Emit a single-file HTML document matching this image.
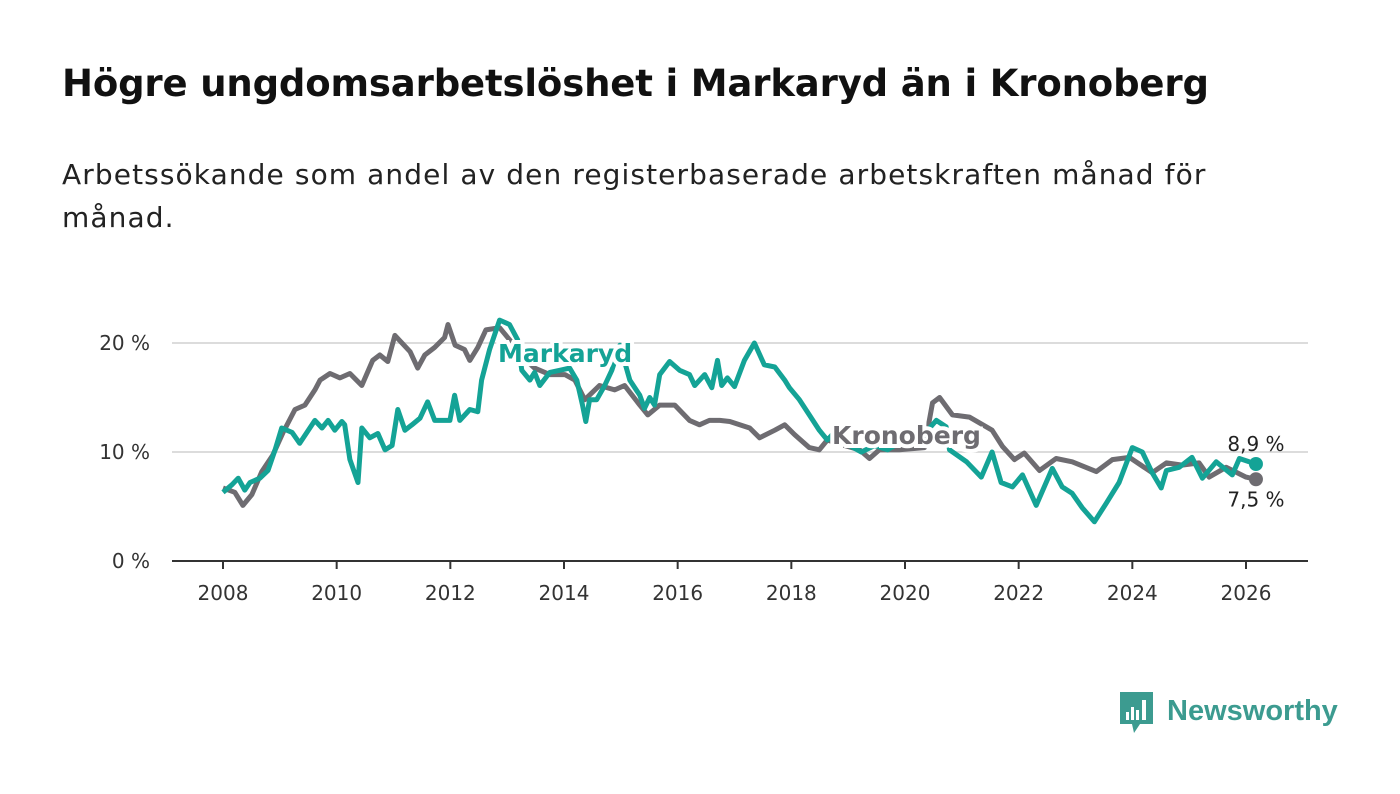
<!DOCTYPE html>
<html><head><meta charset="utf-8">
<style>
body{margin:0;background:#fff;width:1400px;height:794px;overflow:hidden;font-family:"DejaVu Sans",sans-serif;}
#title{position:absolute;left:62px;top:62px;font-size:37px;font-weight:bold;color:#111;margin:0;white-space:nowrap;letter-spacing:-0.15px;}
#sub{position:absolute;left:62px;top:153px;width:1300px;font-size:28px;line-height:43px;color:#222;margin:0;letter-spacing:1.1px;}
svg{position:absolute;left:0;top:0;}
</style></head><body>
<h1 id="title">Högre ungdomsarbetslöshet i Markaryd än i Kronoberg</h1>
<p id="sub">Arbetssökande som andel av den registerbaserade arbetskraften månad för<br>månad.</p>
<svg id="chart" width="1400" height="794"></svg>
<script>
const xTickYears=[2008,2010,2012,2014,2016,2018,2020,2022,2024,2026];
const yTicks=[0,10,20];
const yTickLabels=["0 %","10 %","20 %"];
// months since Jan 2008
const kronMonths=[0,2.5,4.2,6.1,8.2,10.5,12.7,15.2,17.3,19.4,20.5,22.6,24.7,26.8,29.3,31.6,33.1,34.8,36.3,39.5,41.1,42.6,44.7,46.8,47.5,49,51,52.1,53.8,55.5,58.4,60.5,62.7,65.8,69,72.2,74.3,76.4,79.5,82.7,84.8,88,89.7,92.2,95.4,98.5,100.6,102.7,104.9,107,109.1,111.2,113.3,116.5,118.6,120.7,123.8,125.9,127.6,131.2,134.4,136.5,138.6,142.8,148.1,149.8,151.3,154,157.6,162.4,164.6,167.1,169.2,172.4,175.9,179.3,184.4,187.8,191.4,196.2,199.2,202.5,206.1,208.2,211.8,216,218.1];
const kronValues=[6.7,6.3,5.1,6.1,8.2,9.7,11.8,13.9,14.3,15.7,16.6,17.2,16.8,17.2,16.1,18.4,18.9,18.3,20.7,19.2,17.7,18.9,19.6,20.5,21.7,19.8,19.4,18.4,19.6,21.2,21.4,20.3,18.9,17.7,17.1,17.1,16.6,14.8,16.1,15.7,16.1,14.3,13.4,14.3,14.3,12.9,12.5,12.9,12.9,12.8,12.5,12.2,11.3,12.0,12.5,11.6,10.4,10.2,11.1,10.6,10.2,9.4,10.2,10.2,10.4,14.5,15.0,13.4,13.2,12.0,10.5,9.3,9.9,8.3,9.4,9.1,8.2,9.3,9.5,8.1,9.0,8.8,9.0,7.7,8.6,7.7,7.5];
const markMonths=[0,1.9,3.2,4.6,5.7,7.8,9.5,11,12.4,14.6,16.2,19.4,20.9,22.2,23.6,25.1,25.7,26.8,28.5,29.3,31,32.7,34.2,35.7,36.9,38.4,39.9,41.6,43.2,44.7,47.9,48.9,50,52.1,53.8,54.6,56.3,58.4,60.5,62.2,63.1,64.8,65.8,66.9,69,71.1,73.2,74.7,75.9,76.6,77.4,78.9,80.6,82.1,83.8,85.9,88,89,90.1,91.1,92.2,94.3,96.4,98.5,99.6,101.7,103.2,104.4,105.3,106.5,108,110.1,112.2,114.3,116.5,118.6,119.6,121.7,123.8,125.9,127.6,129.1,132.3,134.8,137.6,140.3,141.8,143.9,147,150.6,152.7,153.4,157,160.1,162.4,164.3,166.7,168.8,171.7,175.1,177.2,179.3,181.4,184,186.5,189.2,192,194.1,196.2,198.1,199.2,201.9,204.6,206.8,209.7,213.1,214.6,218.1];
const markValues=[6.3,7.0,7.6,6.5,7.2,7.6,8.3,10.2,12.2,11.8,10.8,12.9,12.2,12.9,12.0,12.8,12.5,9.3,7.2,12.2,11.3,11.7,10.2,10.6,13.9,12.0,12.5,13.1,14.6,12.9,12.9,15.2,12.9,13.9,13.7,16.6,19.4,22.1,21.7,20.3,17.5,16.6,17.3,16.1,17.3,17.5,17.7,16.6,14.3,12.8,14.8,14.8,16.1,17.5,19.8,16.6,15.2,14.0,15.0,14.3,17.1,18.3,17.5,17.1,16.1,17.1,15.9,18.4,16.1,16.8,16.0,18.4,20.0,18.0,17.8,16.6,15.9,14.8,13.4,12.0,11.1,11.8,10.6,10.0,10.6,10.2,10.6,11.1,11.1,12.9,12.3,10.2,9.1,7.7,10.0,7.2,6.8,7.9,5.1,8.5,6.8,6.2,4.9,3.6,5.3,7.2,10.4,10.0,8.1,6.7,8.3,8.6,9.5,7.6,9.1,7.9,9.4,8.9];
const endLabels=["8,9 %","7,5 %"];

const svg=document.getElementById('chart');
const NS='http://www.w3.org/2000/svg';
const x=m=>223+m*(1023/216);
const xYear=yr=>x((yr-2008)*12);
const y=v=>561-v*10.9;
function mk(tag,attrs,parent){const e=document.createElementNS(NS,tag);for(const k in attrs)e.setAttribute(k,attrs[k]);(parent||svg).appendChild(e);return e;}
const FONT='"DejaVu Sans",sans-serif';
yTicks.forEach((t,i)=>{
  if(t>0){const g=mk('line',{x1:172,x2:1308,y1:y(t),y2:y(t),stroke:'#dcdcdc','stroke-width':2});
  
  }
  const l=mk('text',{x:150,y:y(t)+7,'text-anchor':'end','font-size':20,fill:'#333','font-family':FONT});
  l.textContent=yTickLabels[i];
  
  
});
const ax=mk('line',{x1:172,x2:1308,y1:561,y2:561,stroke:'#333','stroke-width':2});


xTickYears.forEach(yr=>{
  const tk=mk('line',{x1:xYear(yr),x2:xYear(yr),y1:561,y2:569,stroke:'#333','stroke-width':2});
  
  
  const l=mk('text',{x:xYear(yr),y:600,'text-anchor':'middle','font-size':20,fill:'#333','font-family':FONT});
  l.textContent=yr;
  
  
});
function path(ms,vs){return ms.map((m,i)=>(i?'L':'M')+x(m).toFixed(1)+' '+y(vs[i]).toFixed(1)).join(' ');}
const kp=mk('path',{d:path(kronMonths,kronValues),fill:'none',stroke:'#6e6c71','stroke-width':5,'stroke-linejoin':'round'});


const mp=mk('path',{d:path(markMonths,markValues),fill:'none',stroke:'#14a396','stroke-width':5,'stroke-linejoin':'round'});


const lk=kronMonths.length-1, lm=markMonths.length-1;
const kd=mk('circle',{cx:x(kronMonths[lk]),cy:y(kronValues[lk]),r:7,fill:'#6e6c71'});


const md=mk('circle',{cx:x(markMonths[lm]),cy:y(markValues[lm]),r:7,fill:'#14a396'});


const ml=mk('text',{x:x(markMonths[lm]),y:y(markValues[lm])-13,'text-anchor':'middle','font-size':20,fill:'#222','font-family':FONT});
ml.textContent=endLabels[0];


const kl=mk('text',{x:x(kronMonths[lk]),y:y(kronValues[lk])+27,'text-anchor':'middle','font-size':20,fill:'#222','font-family':FONT});
kl.textContent=endLabels[1];


const sl=mk('text',{x:498,y:362,'font-size':25,'font-weight':'bold',fill:'#14a396',stroke:'#fff','stroke-width':8,'paint-order':'stroke','font-family':FONT});
sl.textContent='Markaryd';


const sk=mk('text',{x:832,y:444,'font-size':25,'font-weight':'bold',fill:'#6e6c71',stroke:'#fff','stroke-width':8,'paint-order':'stroke','font-family':FONT});
sk.textContent='Kronoberg';


// logo
const lg=mk('g',{});


mk('path',{d:'M1120 692 H1153 V724 H1140 L1134 733 L1132 724 H1120 Z',fill:'#3c9b90'},lg);
[[1126,712,3,8],[1131,707,3,13],[1136,710,3,10],[1142,700,4,20]].forEach(b=>mk('rect',{x:b[0],y:b[1],width:b[2],height:b[3],fill:'#fff'},lg));
const lt=mk('text',{x:1167,y:720,'font-size':29,'font-weight':'bold',fill:'#3c9b90','font-family':'"Liberation Sans",sans-serif'},lg);
lt.textContent='Newsworthy';
</script>
</body></html>
